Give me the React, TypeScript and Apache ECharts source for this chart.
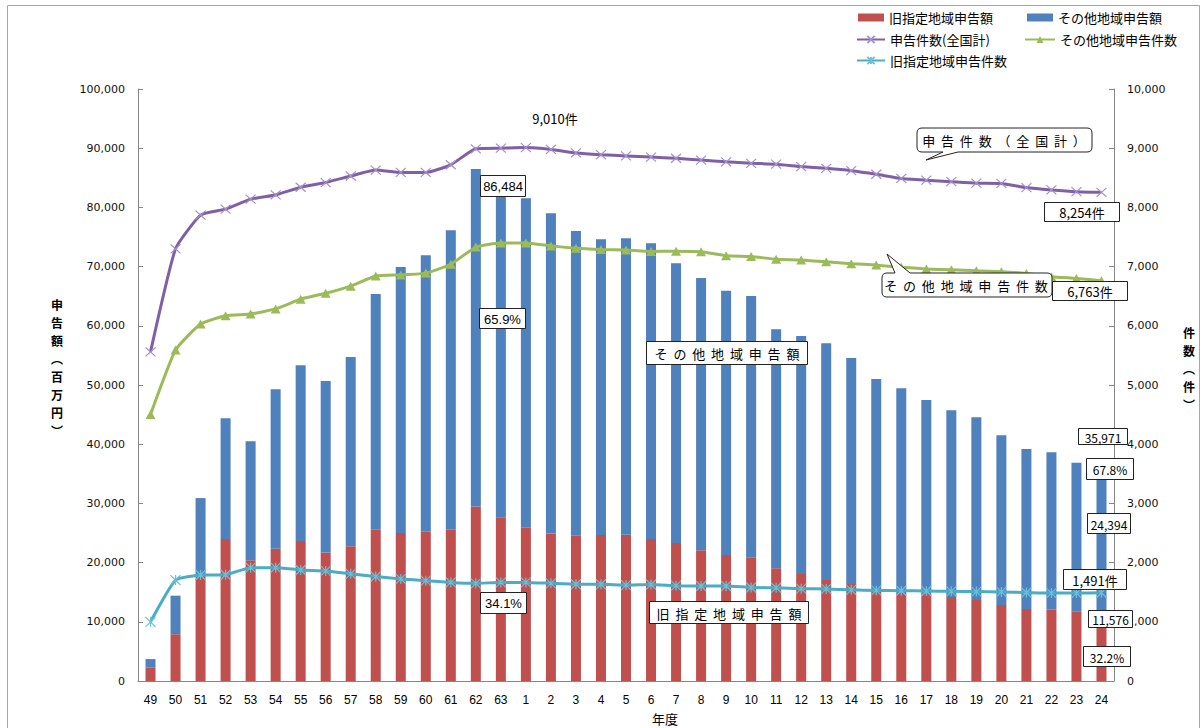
import React, { useEffect, useRef } from 'react';
import * as echarts from 'echarts';

const years = ['49','50','51','52','53','54','55','56','57','58','59','60','61','62','63','1','2','3','4','5','6','7','8','9','10','11','12','13','14','15','16','17','18','19','20','21','22','23','24'];

// 旧指定地域申告額 (百万円)
const oldAmount = [2250,7900,17800,24000,20400,22350,23650,21700,22750,25550,25000,25200,25550,29491,27650,25900,24900,24550,24650,24700,24000,23300,22100,21300,20900,19040,18070,17060,16400,15200,14860,14700,14190,13680,12840,12160,12110,11710,11576];
// その他地域申告額 (百万円)
const otherAmount = [1450,6510,13100,20400,20100,26920,29680,28980,31980,39820,44930,46700,50580,56993,56350,55630,54100,51460,49950,50080,49930,47250,45970,44600,44130,40360,40210,39980,38160,35810,34580,32770,31530,30860,28660,27030,26520,25170,24394];
// 申告件数(全国計)
const totalCount = [5560,7300,7870,7970,8140,8210,8340,8420,8530,8630,8590,8590,8720,8990,9000,9010,8980,8920,8890,8870,8850,8830,8800,8770,8745,8730,8690,8660,8620,8560,8490,8460,8435,8410,8405,8335,8295,8265,8254];
// その他地域申告件数
const otherCount = [4500,5590,6030,6170,6200,6285,6450,6550,6670,6840,6860,6890,7040,7330,7400,7400,7350,7310,7290,7280,7255,7260,7250,7185,7170,7125,7110,7080,7050,7025,6990,6960,6945,6930,6915,6885,6830,6800,6763];
// 旧指定地域申告件数
const oldCount = [1000,1705,1790,1795,1915,1915,1875,1860,1810,1765,1725,1695,1665,1650,1665,1665,1650,1635,1635,1620,1630,1610,1605,1605,1580,1575,1560,1555,1540,1530,1525,1520,1515,1510,1505,1495,1485,1485,1491];

const amountAxis = { min: 0, max: 100000, interval: 10000 };
const countAxis = { min: 0, max: 10000, interval: 1000 };

const CJK = '"Noto Sans CJK JP", sans-serif';

const callout1 = 'M922,128 H1087 Q1092,128 1092,133 V147 Q1092,152 1087,152 H958 L926,160 L943,152 H922 Q917,152 917,147 V133 Q917,128 922,128 Z';
const callout2 = 'M887,273 H895 L887,254 L910,273 H1047 Q1052,273 1052,278 V292 Q1052,297 1047,297 H887 Q882,297 882,292 V278 Q882,273 887,273 Z';

let registered = false;
function registerShapes() {
  if (registered) return;
  echarts.graphic.registerShape('callout1', echarts.graphic.extendPath(callout1, {}));
  echarts.graphic.registerShape('callout2', echarts.graphic.extendPath(callout2, {}));
  registered = true;
}

const fmt = (v: number) => v.toLocaleString('en-US');

function box(x: number, y: number, w: number, h: number, text: string, font: string, size: number) {
  return [
    { type: 'rect', shape: { x: x + 0.5, y: y + 0.5, width: w, height: h }, style: { fill: '#fff', stroke: '#222', lineWidth: 1 }, z: 100 },
    { type: 'text', x: x + w / 2 + 0.5, y: y + h / 2 + 1, style: { text, fill: '#000', fontSize: size, fontFamily: font, align: 'center', verticalAlign: 'middle' }, z: 101 },
  ];
}

export default function App() {
  const ref = useRef<HTMLDivElement>(null);
  useEffect(() => {
    registerShapes();
    const chart = echarts.init(ref.current!, null, { renderer: 'svg' });
    const legendCommon = {
      selectedMode: false,
      itemGap: 0,
      textStyle: { fontSize: 13, color: '#000', fontFamily: CJK },
      padding: 0,
    };
    const crossPath = 'path://M0,0L10,10M10,0L0,10';
    const starPath = 'path://M0,0L10,10M10,0L0,10M5,0L5,10';
    const option: any = {
      animation: false,
      backgroundColor: '#fff',
      grid: { left: 138, right: 89, top: 89, bottom: 47 },
      legend: [
        { ...legendCommon, data: ['旧指定地域申告額'], left: 858, top: 11, itemWidth: 26, itemHeight: 8, icon: 'rect' },
        { ...legendCommon, data: ['その他地域申告額'], left: 1027, top: 11, itemWidth: 26, itemHeight: 8, icon: 'rect' },
        { ...legendCommon, data: ['申告件数(全国計)'], left: 856, top: 33, itemWidth: 28, itemHeight: 9 },
        { ...legendCommon, data: ['その他地域申告件数'], left: 1024, top: 33, itemWidth: 30, itemHeight: 9 },
        { ...legendCommon, data: ['旧指定地域申告件数'], left: 856, top: 54, itemWidth: 28, itemHeight: 9 },
      ],
      xAxis: {
        type: 'category',
        data: years,
        boundaryGap: true,
        axisLine: { lineStyle: { color: '#868686', width: 1 } },
        axisTick: { inside: true, length: 5, lineStyle: { color: '#868686' } },
        axisLabel: { color: '#000', fontSize: 12, margin: 13, interval: 0, fontFamily: '"Liberation Sans", Arial, sans-serif' },
        splitLine: { show: false },
      },
      yAxis: [
        {
          type: 'value', ...amountAxis, position: 'left',
          axisLine: { show: true, lineStyle: { color: '#868686' } },
          axisTick: { show: true, inside: true, length: 5, lineStyle: { color: '#868686' } },
          axisLabel: { color: '#111', fontSize: 11, margin: 13, fontFamily: '"DejaVu Sans", sans-serif', formatter: (v: number) => fmt(v) },
          splitLine: { show: false },
        },
        {
          type: 'value', ...countAxis, position: 'right',
          axisLine: { show: true, lineStyle: { color: '#868686' } },
          axisTick: { show: true, inside: true, length: 5, lineStyle: { color: '#868686' } },
          axisLabel: { color: '#111', fontSize: 11, margin: 13, fontFamily: '"DejaVu Sans", sans-serif', formatter: (v: number) => fmt(v) },
          splitLine: { show: false },
        },
      ],
      series: [
        { name: '旧指定地域申告額', type: 'bar', stack: 'amt', data: oldAmount, barWidth: 10, itemStyle: { color: '#C0504D' }, z: 2 },
        { name: 'その他地域申告額', type: 'bar', stack: 'amt', data: otherAmount, barWidth: 10, itemStyle: { color: '#4F81BD' }, z: 2 },
        {
          name: '申告件数(全国計)', type: 'line', yAxisIndex: 1, data: totalCount, smooth: 0.15,
          lineStyle: { color: '#7F60A6', width: 3 },
          symbol: crossPath, symbolSize: [10, 9],
          itemStyle: { color: '#7F60A6', borderColor: '#A692CB', borderWidth: 1.2 }, z: 5,
        },
        {
          name: 'その他地域申告件数', type: 'line', yAxisIndex: 1, data: otherCount, smooth: 0.15,
          lineStyle: { color: '#9BBB59', width: 3 },
          symbol: 'triangle', symbolSize: [10, 9],
          itemStyle: { color: '#9BBB59' }, z: 5,
        },
        {
          name: '旧指定地域申告件数', type: 'line', yAxisIndex: 1, data: oldCount, smooth: 0.15,
          lineStyle: { color: '#4BACC6', width: 3 },
          symbol: starPath, symbolSize: [10, 10],
          itemStyle: { color: '#4BACC6', borderColor: '#6CC0D8', borderWidth: 1.2 }, z: 5,
        },
      ],
      graphic: [
        { type: 'rect', shape: { x: 7.5, y: 5.5, width: 1192, height: 800 }, style: { fill: 'none', stroke: '#A6A6A6', lineWidth: 1 }, z: 0, silent: true },
        { type: 'text', x: 57, y: 295, style: { text: '申\n告\n額\n︵\n百\n万\n円\n︶', fill: '#000', fontSize: 12, fontWeight: 'bold', fontFamily: CJK, align: 'center', lineHeight: 18 }, z: 10 },
        { type: 'text', x: 1189, y: 323, style: { text: '件\n数\n︵\n件\n︶', fill: '#000', fontSize: 12, fontWeight: 'bold', fontFamily: CJK, align: 'center', lineHeight: 18 }, z: 10 },
        { type: 'text', x: 665, y: 718, style: { text: '年度', fill: '#000', fontSize: 13, fontFamily: CJK, align: 'center', verticalAlign: 'middle' }, z: 10 },
        { type: 'text', x: 555, y: 118, style: { text: '9,010件', fill: '#000', fontSize: 13, fontFamily: CJK, align: 'center', verticalAlign: 'middle' }, z: 10 },
        { type: 'callout1', x: 0, y: 0, style: { fill: '#fff', stroke: '#222', lineWidth: 1 }, z: 100 },
        { type: 'text', x: 1004, y: 140, style: { text: '申  告  件  数  （  全  国  計  ）', fill: '#000', fontSize: 13, fontFamily: CJK, align: 'center', verticalAlign: 'middle' }, z: 101 },
        { type: 'callout2', x: 0, y: 0, style: { fill: '#fff', stroke: '#222', lineWidth: 1 }, z: 100 },
        { type: 'text', x: 966, y: 285, style: { text: 'そ  の  他  地  域  申  告  件  数', fill: '#000', fontSize: 13, fontFamily: CJK, align: 'center', verticalAlign: 'middle' }, z: 101 },
        ...box(480, 175, 45, 21, '86,484', '"Liberation Sans", Arial, sans-serif', 13),
        ...box(479, 308, 46, 20, '65.9%', '"Liberation Sans", Arial, sans-serif', 13),
        ...box(480, 592, 46, 21, '34.1%', '"Liberation Sans", Arial, sans-serif', 13),
        ...box(646, 341, 161, 23, 'そ  の  他  地  域  申  告  額', CJK, 13),
        ...box(649, 601, 159, 22, '旧  指  定  地  域  申  告  額', CJK, 13),
        ...box(1044, 202, 75, 19, '8,254件', CJK, 13),
        ...box(1052, 281, 75, 19, '6,763件', CJK, 13),
        ...box(1078, 428, 49, 16, '35,971', CJK, 12),
        ...box(1086, 458, 47, 21, '67.8%', CJK, 12),
        ...box(1087, 513, 43, 20, '24,394', CJK, 12),
        ...box(1063, 569, 63, 20, '1,491件', CJK, 13),
        ...box(1088, 610, 44, 17, '11,576', CJK, 12),
        ...box(1083, 646, 47, 20, '32.2%', CJK, 12),
      ],
    };
    chart.setOption(option);
    return () => chart.dispose();
  }, []);
  return <div ref={ref} style={{ position: 'fixed', left: 0, top: 0, width: 1203, height: 728, background: '#fff' }} />;
}
